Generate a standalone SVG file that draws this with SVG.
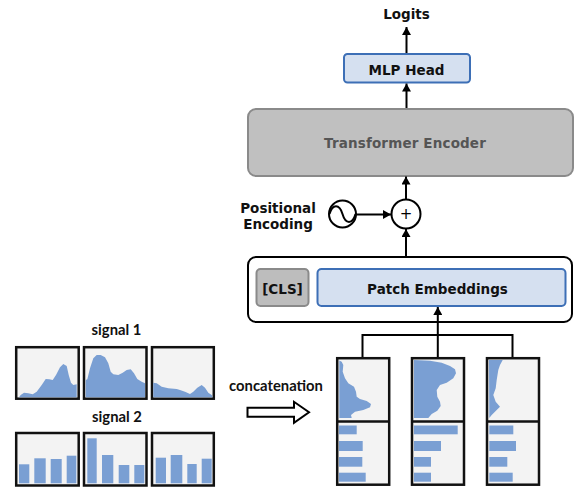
<svg xmlns="http://www.w3.org/2000/svg" width="577" height="487" viewBox="0 0 577 487">
<defs>
<style>
.dv{font-family:"DejaVu Sans",Verdana,sans-serif;font-weight:bold;font-size:13.5px;fill:#111;text-anchor:middle}
.lt{font-family:Lato,"Liberation Sans",sans-serif;font-weight:bold;font-size:14.8px;fill:#111;text-anchor:middle}
.panel{fill:#f3f3f3;stroke:#111;stroke-width:2.5}
.fillb{fill:#7a9fd3}
.conn{fill:none;stroke:#000;stroke-width:2}
.blue{fill:#d5e0f0;stroke:#3d6fb6;stroke-width:2}
</style>
<marker id="ah" viewBox="0 0 8 9" refX="8" refY="4.5" markerWidth="8" markerHeight="9" orient="auto" markerUnits="userSpaceOnUse">
<path d="M0,0 L8,4.5 L0,9 z" fill="#000"/>
</marker>
</defs>
<rect width="577" height="487" fill="#fff"/>

<g id="logits"><text class="dv" x="406.5" y="18.5">Logits</text></g>

<g id="mlp-head">
<rect class="blue" x="344" y="54" width="126" height="28.5" rx="3.5"/>
<text class="dv" x="406.5" y="75">MLP Head</text>
</g>

<g id="transformer-encoder">
<rect x="248" y="109" width="325" height="67" rx="8" fill="#c0c0c0" stroke="#8a8a8a" stroke-width="2"/>
<text class="dv" x="405" y="148" style="fill:#555" letter-spacing="0.15">Transformer Encoder</text>
</g>

<g id="positional-encoding">
<text class="dv" x="278" y="213">Positional</text>
<text class="dv" x="278" y="229">Encoding</text>
<circle cx="342.5" cy="214" r="13.5" fill="#fff" stroke="#000" stroke-width="2"/>
<path d="M329.5,214 C332.5,203.5 339.5,203.5 342.5,214 S352.5,224.5 355.5,214" fill="none" stroke="#000" stroke-width="2"/>
</g>

<g id="sum">
<circle cx="406" cy="214" r="14.5" fill="#fff" stroke="#000" stroke-width="2"/>
<text x="406" y="219" font-family="DejaVu Sans,sans-serif" font-size="15" text-anchor="middle" fill="#000">+</text>
</g>

<g id="embedding-block">
<rect x="248" y="257" width="324" height="65" rx="8" fill="#fff" stroke="#000" stroke-width="2"/>
<g id="cls">
<rect x="256.5" y="269" width="52" height="37" rx="4" fill="#bdbdbd" stroke="#8a8a8a" stroke-width="2"/>
<text class="dv" x="282.5" y="294">[CLS]</text>
</g>
<g id="patch-embeddings">
<rect class="blue" x="317.5" y="269" width="248" height="37" rx="4"/>
<text class="dv" x="437.5" y="294">Patch Embeddings</text>
</g>
</g>

<g id="connectors">
<line class="conn" x1="406.5" y1="53" x2="406.5" y2="27" marker-end="url(#ah)"/>
<line class="conn" x1="406.5" y1="108" x2="406.5" y2="83.5" marker-end="url(#ah)"/>
<line class="conn" x1="406" y1="199.5" x2="406" y2="176.5" marker-end="url(#ah)"/>
<line class="conn" x1="406" y1="256" x2="406" y2="229" marker-end="url(#ah)"/>
<line class="conn" x1="356" y1="214.5" x2="391" y2="214.5" marker-end="url(#ah)"/>
<path class="conn" d="M362.5,357 V335 H512.5 V357"/>
<line class="conn" x1="437.8" y1="357" x2="437.8" y2="307" marker-end="url(#ah)"/>
</g>

<g id="signal-1">
<text class="lt" x="116.5" y="335">signal 1</text>
<rect class="panel" x="16.2" y="347.2" width="62.5" height="51.5"/>
<rect class="panel" x="84" y="347.2" width="62.5" height="51.5"/>
<rect class="panel" x="152" y="347.2" width="61.8" height="51.5"/>
<path class="fillb" d="M19,397.3 L20.7,395 L24,392.7 L28.3,393.3 L32.7,394.3 L36.7,391.7 L41.7,385 L45.7,379 L49.3,379.3 L52.7,380 L56,375 L60,367.3 L63.3,364 L66.7,366 L68.7,375 L71,382.7 L73.3,385 L76.7,384.3 L76.7,397.3 Z"/>
<path class="fillb" d="M85.7,397.3 L85.7,380 L87.3,379.3 L90,368.3 L93.3,358.3 L96.7,355 L100.7,355 L105,357.3 L108.3,363.3 L110.7,371.7 L113.3,374.3 L118.3,375 L122.7,372.7 L126.7,370 L130.7,369.3 L134,373.3 L137.3,379 L141.7,381.7 L145,383.3 L145,397.3 Z"/>
<path class="fillb" d="M153.3,397.3 L153.3,382.7 L156.7,383.3 L161.7,386.7 L168.3,388.3 L176.7,389 L180,390 L185,391.7 L190,394 L193.3,391.7 L197.3,387.7 L201.7,385 L205,387.7 L208.3,392.7 L211.7,395 L212.7,397.3 Z"/>
</g>

<g id="signal-2">
<text class="lt" x="117" y="421.7">signal 2</text>
<rect class="panel" x="16.2" y="433" width="62.5" height="52.5"/>
<rect class="panel" x="84" y="433" width="62.5" height="52.5"/>
<rect class="panel" x="152" y="433" width="61.8" height="52.5"/>
<g class="fillb">
<rect x="19" y="464.3" width="10.3" height="19"/>
<rect x="34.3" y="458.3" width="11.4" height="25"/>
<rect x="50.7" y="459" width="11" height="24.3"/>
<rect x="66.7" y="455.7" width="9.6" height="27.6"/>
<rect x="87.3" y="438.3" width="9.4" height="45"/>
<rect x="102" y="455" width="11.3" height="28.3"/>
<rect x="118.7" y="465" width="10.6" height="18.3"/>
<rect x="134.3" y="465" width="10" height="18.3"/>
<rect x="155.7" y="457.7" width="10.3" height="25.6"/>
<rect x="170.7" y="455" width="11.6" height="28.3"/>
<rect x="187.3" y="464" width="9.4" height="19.3"/>
<rect x="201.7" y="458.7" width="10" height="24.6"/>
</g>
</g>

<g id="concatenation">
<text class="lt" x="276" y="390.5">concatenation</text>
<path d="M247.5,407.8 H294 V401.8 L309,412.3 L294,422.8 V416.8 H247.5 Z" fill="#fff" stroke="#000" stroke-width="2"/>
</g>

<g id="patch-col-1">
<rect class="panel" x="337.2" y="358.2" width="52" height="126.5"/>
<line x1="337.2" y1="421.5" x2="389.2" y2="421.5" stroke="#111" stroke-width="2.5"/>
<path class="fillb" d="M339.3,360.5 L341.7,361.7 L343.3,365 L342.7,371.7 L345,378.3 L348.3,383.3 L354,386.7 L356,391.7 L356.7,396.7 L360,399 L366.7,401 L371,404 L370,407.3 L363.3,410 L355,411.7 L351,415 L351.7,418 L339.3,418 Z"/>
<g class="fillb">
<rect x="339" y="425.5" width="17.7" height="8.8"/>
<rect x="339" y="441" width="23.7" height="10"/>
<rect x="339" y="457" width="23.3" height="9.7"/>
<rect x="339" y="472.7" width="26.7" height="9"/>
</g>
</g>

<g id="patch-col-2">
<rect class="panel" x="412" y="358.2" width="52" height="126.5"/>
<line x1="412" y1="421.5" x2="464" y2="421.5" stroke="#111" stroke-width="2.5"/>
<path class="fillb" d="M414,360 L430,360.7 L441.7,362.7 L450,366 L455,369.3 L456,373.3 L453.3,378.3 L446.7,382.7 L440,385 L436.7,390 L437.3,396.7 L440,401.7 L440.7,406 L437.3,410.7 L431.7,414 L428.3,418 L414,418 Z"/>
<g class="fillb">
<rect x="414" y="425.5" width="43.7" height="8.8"/>
<rect x="414" y="441" width="27" height="10"/>
<rect x="414" y="457" width="17" height="9.7"/>
<rect x="414" y="472.7" width="17" height="9"/>
</g>
</g>

<g id="patch-col-3">
<rect class="panel" x="487" y="358.2" width="52" height="126.5"/>
<line x1="487" y1="421.5" x2="539" y2="421.5" stroke="#111" stroke-width="2.5"/>
<path class="fillb" d="M489,360 L502.7,360 L500,365 L498.3,370 L496.7,380 L495.7,388.3 L493.3,395 L495.7,401.7 L500,406.7 L496.7,410 L491.7,415 L489.3,418 Z"/>
<g class="fillb">
<rect x="489.3" y="425.5" width="24" height="8.8"/>
<rect x="489.3" y="441" width="26.7" height="10"/>
<rect x="489.3" y="457" width="18" height="9.7"/>
<rect x="489.3" y="472.7" width="23.4" height="9"/>
</g>
</g>
</svg>
